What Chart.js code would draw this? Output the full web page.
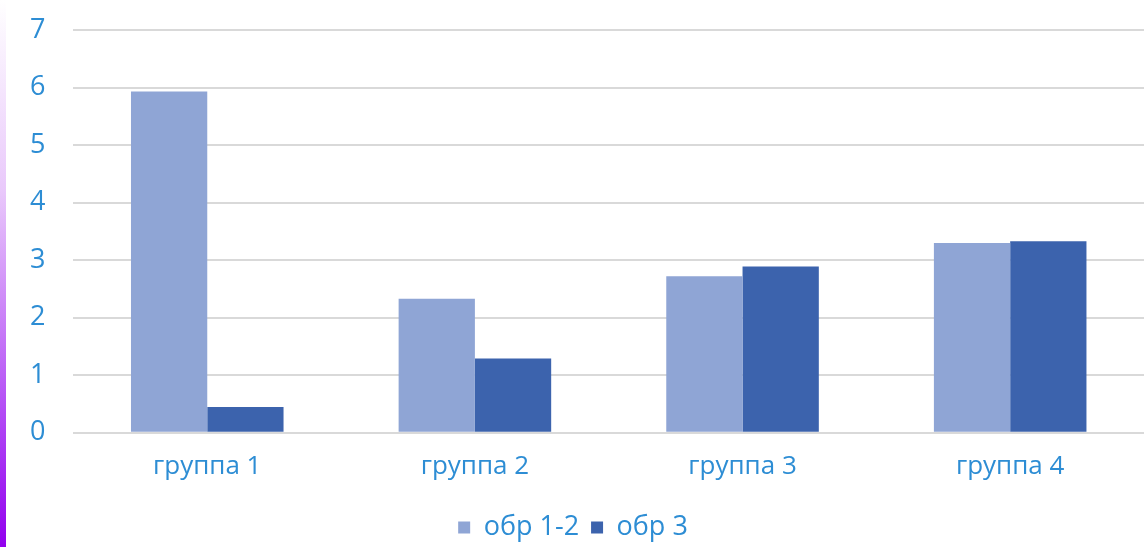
<!DOCTYPE html>
<html>
<head>
<meta charset="utf-8">
<script src="https://cdn.jsdelivr.net/npm/chart.js@4"></script>
<style>
  html, body { margin: 0; padding: 0; background: #fff; }
  #wrap { position: relative; width: 1147px; height: 547px; }
  #strip {
    position: absolute; left: 0; top: 0; width: 6px; height: 547px;
    background: linear-gradient(to bottom, #ffffff 0%, #e9c8fb 35%, #b34cf5 75%, #9200ee 100%);
  }
  canvas { position: absolute; left: 0; top: 0; }
</style>
</head>
<body>
<div id="wrap">
  <canvas id="barChart" width="1147" height="547"></canvas>
  <div id="strip"></div>
</div>
<script>
const CATEGORIES = ["группа 1", "группа 2", "группа 3", "группа 4"];
const SERIES_1 = [5.93, 2.33, 2.72, 3.3];
const SERIES_2 = [0.45, 1.29, 2.89, 3.33];
const SERIES_NAMES = ["обр 1-2", "обр 3"];
const Y_TICKS = [0, 1, 2, 3, 4, 5, 6, 7];

const TEXT_COLOR = "#2d8dd4";
const FONT = "'Open Sans', sans-serif";

(function() {
  const ctx = document.getElementById("barChart").getContext("2d");
  new Chart(ctx, {
    type: "bar",
    data: {
      labels: CATEGORIES,
      datasets: [
        {
          label: SERIES_NAMES[0],
          data: SERIES_1,
          backgroundColor: "#8fa5d5",
          barPercentage: 1,
          categoryPercentage: 0.57
        },
        {
          label: SERIES_NAMES[1],
          data: SERIES_2,
          backgroundColor: "#3c63ad",
          barPercentage: 1,
          categoryPercentage: 0.57
        }
      ]
    },
    options: {
      responsive: false,
      animation: false,
      layout: { padding: { top: 30, right: 3, left: 2, bottom: -4 } },
      plugins: {
        legend: {
          position: "bottom",
          labels: {
            color: TEXT_COLOR,
            font: { family: FONT, size: 27 },
            boxWidth: 12,
            boxHeight: 12,
            padding: 12
          }
        },
        tooltip: { enabled: false }
      },
      scales: {
        x: {
          grid: { display: false },
          border: { display: false },
          afterFit: axis => { axis.height += 10; },
          ticks: {
            color: TEXT_COLOR,
            font: { family: FONT, size: 26 },
            padding: 10
          }
        },
        y: {
          min: 0,
          max: 7,
          afterBuildTicks: axis => {
            axis.ticks = Y_TICKS.map(v => ({ value: v }));
          },
          afterFit: axis => {
            axis.paddingTop = 0;
            axis.paddingBottom = 0;
          },
          grid: { color: "#d9d9d9", lineWidth: 2, drawTicks: false },
          border: { display: false },
          ticks: {
            color: TEXT_COLOR,
            font: { family: FONT, size: 27 },
            padding: 28
          }
        }
      }
    }
  });
})();
</script>
</body>
</html>
